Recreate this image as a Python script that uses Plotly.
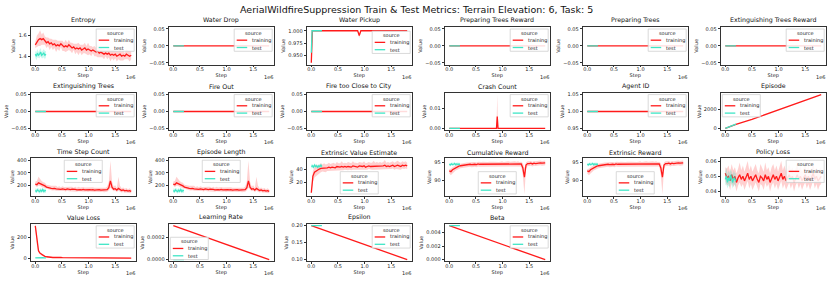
import plotly.graph_objects as go

W, H = 831, 283
FIG_TITLE = "AerialWildfireSuppression Train & Test Metrics: Terrain Elevation: 6, Task: 5"
SERIES_NAMES = ["training", "test"]
LEGEND_TITLE = "source"
X_LABEL = "Step"
Y_LABEL = "Value"
X_OFFSET_LABEL = "1e6"
X_TICK_VALS = [0, 500000, 1000000, 1500000]
X_TICK_TEXT = ["0.0", "0.5", "1.0", "1.5"]

# ---------------- steps (in thousands) ----------------
GRID_STEPS_K = [0, 30, 60, 90, 120, 150, 180, 210, 240, 270, 300, 330, 360, 390, 420, 450, 480, 510,
                540, 570, 600, 630, 660, 690, 720, 750, 780, 810, 840, 870, 900, 930, 960, 990, 1020,
                1050, 1080, 1110, 1140, 1170, 1200, 1230, 1260, 1290, 1320, 1350, 1380, 1410, 1440,
                1470, 1500, 1530, 1560, 1590, 1620, 1650, 1680, 1710, 1740, 1770, 1800]
TEST_STEPS_K = [0, 20, 40, 60, 80, 100, 120, 140, 160, 180, 200]
FLAT_STEPS_K = [0, 1800]
FLAT_TEST_STEPS_K = [0, 200]

# ---------------- Entropy ----------------
ENTROPY_TRAIN = [1.51, 1.54, 1.56, 1.57, 1.56, 1.57, 1.55, 1.53, 1.54, 1.52,
                 1.53, 1.51, 1.52, 1.50, 1.51, 1.50, 1.52, 1.50, 1.49, 1.50,
                 1.49, 1.51, 1.49, 1.48, 1.49, 1.47, 1.48, 1.47, 1.48, 1.46,
                 1.47, 1.48, 1.46, 1.47, 1.46, 1.45, 1.46, 1.45, 1.44, 1.45,
                 1.43, 1.44, 1.43, 1.42, 1.43, 1.42, 1.43, 1.41, 1.42, 1.41,
                 1.42, 1.40, 1.41, 1.42, 1.40, 1.41, 1.40, 1.42, 1.41, 1.40, 1.41]
ENTROPY_TRAIN_HI = [1.54, 1.60, 1.62, 1.65, 1.61, 1.63, 1.59, 1.58, 1.58, 1.57,
                    1.57, 1.56, 1.56, 1.56, 1.55, 1.55, 1.55, 1.55, 1.53, 1.56,
                    1.53, 1.56, 1.53, 1.53, 1.52, 1.52, 1.52, 1.53, 1.51, 1.51,
                    1.51, 1.53, 1.50, 1.53, 1.50, 1.50, 1.49, 1.50, 1.48, 1.51,
                    1.47, 1.49, 1.47, 1.47, 1.46, 1.47, 1.47, 1.47, 1.46, 1.46,
                    1.46, 1.45, 1.45, 1.48, 1.44, 1.46, 1.43, 1.47, 1.45, 1.45, 1.45]
ENTROPY_TRAIN_LO = [1.48, 1.49, 1.50, 1.50, 1.51, 1.51, 1.51, 1.48, 1.50, 1.46,
                    1.49, 1.46, 1.48, 1.44, 1.47, 1.45, 1.49, 1.45, 1.45, 1.44,
                    1.45, 1.46, 1.45, 1.43, 1.46, 1.42, 1.44, 1.41, 1.44, 1.41,
                    1.43, 1.43, 1.42, 1.41, 1.42, 1.40, 1.43, 1.40, 1.40, 1.39,
                    1.39, 1.39, 1.39, 1.37, 1.40, 1.37, 1.39, 1.35, 1.38, 1.36,
                    1.38, 1.35, 1.37, 1.36, 1.36, 1.36, 1.37, 1.37, 1.37, 1.35, 1.37]
ENTROPY_TEST = [1.42, 1.40, 1.43, 1.41, 1.42, 1.44, 1.41, 1.42, 1.43, 1.41, 1.42]
ENTROPY_TEST_HI = [1.45, 1.44, 1.47, 1.44, 1.46, 1.48, 1.44, 1.46, 1.47, 1.45, 1.45]
ENTROPY_TEST_LO = [1.39, 1.36, 1.39, 1.38, 1.38, 1.40, 1.38, 1.38, 1.39, 1.37, 1.39]

# ---------------- flat metrics ----------------
ZERO_TRAIN = [0.0, 0.0]
ZERO_TEST = [0.0, 0.0]
AGENT_ID_TRAIN = [1.0, 1.0]
AGENT_ID_TEST = [1.0, 1.0]

# ---------------- Water Pickup ----------------
WATER_PICKUP_STEPS_K = [0, 20, 870, 900, 930, 1800]
WATER_PICKUP_TRAIN = [0.935, 1.0, 1.0, 0.990, 1.0, 1.0]
WATER_PICKUP_TRAIN_HI = [0.94, 1.0, 1.0, 0.995, 1.0, 1.0]
WATER_PICKUP_TRAIN_LO = [0.932, 1.0, 1.0, 0.985, 1.0, 1.0]
WATER_PICKUP_TEST_STEPS_K = [0, 15, 200]
WATER_PICKUP_TEST = [0.955, 1.0, 1.0]

# ---------------- Crash Count ----------------
CRASH_STEPS_K = [0, 885, 900, 915, 1800]
CRASH_TRAIN = [0.0, 0.0, 0.006, 0.0, 0.0]
CRASH_TRAIN_HI = [0.0, 0.0, 0.017, 0.0, 0.0]
CRASH_TRAIN_LO = [0.0, 0.0, 0.0, 0.0, 0.0]

# ---------------- Episode ----------------
EPISODE_STEPS_K = [0, 200, 500, 1000, 1500, 1800]
EPISODE_TRAIN = [0, 420, 950, 1950, 2950, 3570]
EPISODE_TEST_STEPS_K = [0, 100, 200]
EPISODE_TEST = [0, 230, 450]

# ---------------- Time Step Count / Episode Length ----------------
TIME_STEP_TRAIN = [210, 205, 220, 215, 205, 200, 195, 185, 180, 178,
                   175, 172, 175, 170, 168, 172, 166, 170, 168, 165,
                   170, 167, 165, 168, 164, 166, 163, 167, 165, 162,
                   166, 163, 165, 161, 164, 162, 165, 160, 163, 161,
                   164, 160, 162, 158, 161, 165, 180, 235, 185, 168,
                   172, 160, 175, 165, 158, 162, 155, 158, 152, 156, 150]
TIME_STEP_TRAIN_HI = [230, 235, 270, 250, 235, 225, 220, 205, 200, 200,
                      195, 195, 192, 195, 185, 192, 183, 192, 185, 185,
                      188, 186, 182, 188, 180, 188, 180, 187, 182, 185,
                      186, 182, 183, 182, 180, 182, 183, 180, 180, 178,
                      182, 178, 180, 176, 180, 190, 230, 400, 230, 190,
                      200, 178, 270, 195, 175, 182, 172, 178, 168, 175, 165]
TIME_STEP_TRAIN_LO = [195, 185, 195, 195, 185, 180, 175, 170, 165, 162,
                      160, 158, 160, 155, 155, 157, 152, 155, 153, 150,
                      155, 152, 150, 152, 150, 150, 148, 152, 150, 147,
                      150, 148, 150, 146, 150, 147, 150, 145, 148, 146,
                      150, 145, 147, 143, 146, 148, 160, 180, 165, 152,
                      155, 145, 155, 150, 142, 146, 140, 142, 138, 140, 136]
TIME_STEP_TEST = [158, 150, 162, 155, 148, 160, 152, 165, 150, 158, 155]
TIME_STEP_TEST_HI = [175, 170, 180, 172, 168, 178, 170, 182, 168, 175, 170]
TIME_STEP_TEST_LO = [140, 135, 145, 138, 132, 142, 136, 148, 134, 140, 138]
EPISODE_LENGTH_TRAIN = TIME_STEP_TRAIN
EPISODE_LENGTH_TRAIN_HI = TIME_STEP_TRAIN_HI
EPISODE_LENGTH_TRAIN_LO = TIME_STEP_TRAIN_LO
EPISODE_LENGTH_TEST = TIME_STEP_TEST
EPISODE_LENGTH_TEST_HI = TIME_STEP_TEST_HI
EPISODE_LENGTH_TEST_LO = TIME_STEP_TEST_LO

# ---------------- Extrinsic Value Estimate ----------------
VALUE_EST_TRAIN = [4, 30, 36, 38, 39, 41, 42, 42, 43, 42,
                   43, 44, 43, 44, 44, 43, 45, 44, 44, 45,
                   44, 45, 44, 45, 45, 44, 46, 45, 45, 44,
                   46, 45, 45, 46, 44, 45, 46, 45, 45, 46,
                   45, 46, 45, 46, 45, 46, 47, 45, 46, 45,
                   46, 47, 45, 46, 47, 46, 45, 47, 46, 47, 46]
VALUE_EST_TRAIN_HI = [8, 38, 44, 48, 46, 47, 50, 48, 50, 48,
                      49, 51, 49, 50, 51, 49, 52, 50, 50, 53,
                      50, 51, 50, 52, 51, 50, 53, 51, 51, 50,
                      52, 51, 51, 53, 50, 51, 52, 51, 51, 54,
                      51, 52, 51, 52, 51, 52, 55, 51, 52, 51,
                      52, 53, 51, 52, 54, 52, 51, 53, 52, 53, 51]
VALUE_EST_TRAIN_LO = [2, 20, 28, 30, 33, 35, 36, 37, 37, 36,
                      38, 38, 38, 39, 38, 38, 39, 39, 39, 39,
                      39, 40, 39, 39, 40, 39, 40, 40, 40, 39,
                      40, 40, 40, 40, 39, 40, 41, 40, 40, 40,
                      40, 41, 40, 41, 40, 41, 41, 40, 41, 40,
                      41, 42, 40, 41, 41, 41, 40, 42, 41, 42, 41]
VALUE_EST_TEST = [45, 46, 44, 47, 45, 46, 44, 46, 45, 47, 45]
VALUE_EST_TEST_HI = [48, 49, 47, 50, 48, 49, 47, 49, 48, 50, 48]
VALUE_EST_TEST_LO = [42, 43, 41, 44, 42, 43, 41, 43, 42, 44, 42]

# ---------------- Cumulative / Extrinsic Reward ----------------
REWARD_TRAIN = [92.7, 92.5, 93.0, 93.3, 93.6, 93.8, 94.0, 94.1, 94.2, 94.3,
                94.3, 94.4, 94.4, 94.5, 94.4, 94.5, 94.5, 94.4, 94.6, 94.5,
                94.5, 94.6, 94.5, 94.6, 94.5, 94.6, 94.5, 94.6, 94.6, 94.5,
                94.6, 94.5, 94.6, 94.7, 94.6, 94.6, 94.6, 94.7, 94.6, 94.7,
                94.6, 94.7, 94.6, 94.7, 94.5, 94.6, 93.5, 91.0, 94.3, 94.7,
                94.7, 94.8, 94.6, 94.8, 94.7, 94.8, 94.7, 94.9, 94.8, 94.8, 94.9]
REWARD_TRAIN_HI = [93.2, 93.3, 93.7, 94.0, 94.3, 94.5, 94.6, 94.7, 94.8, 95.0,
                   94.9, 95.0, 95.0, 95.1, 95.0, 95.1, 95.1, 95.0, 95.2, 95.1,
                   95.1, 95.2, 95.1, 95.2, 95.1, 95.2, 95.1, 95.2, 95.2, 95.1,
                   95.2, 95.1, 95.2, 95.3, 95.1, 95.2, 95.2, 95.3, 95.2, 95.3,
                   95.2, 95.3, 95.2, 95.3, 95.1, 95.2, 94.8, 93.5, 95.0, 95.3,
                   95.3, 95.4, 95.2, 95.4, 95.3, 95.4, 95.3, 95.5, 95.4, 95.4, 95.5]
REWARD_TRAIN_LO = [92.0, 91.5, 92.0, 92.5, 92.8, 93.0, 93.3, 93.4, 93.5, 93.6,
                   93.6, 93.7, 93.7, 93.8, 93.7, 93.8, 93.8, 93.7, 93.9, 93.8,
                   93.8, 93.9, 93.8, 93.9, 93.8, 93.9, 93.8, 93.9, 93.9, 93.8,
                   93.9, 93.8, 93.9, 94.0, 93.8, 93.9, 93.9, 94.0, 93.9, 94.0,
                   93.9, 94.0, 93.9, 94.0, 93.8, 93.9, 91.5, 86.3, 93.4, 94.0,
                   94.0, 94.1, 93.9, 94.1, 94.0, 94.1, 94.0, 94.2, 94.1, 94.1, 94.2]
REWARD_TEST = [94.5, 94.3, 94.6, 94.4, 94.5, 94.7, 94.4, 94.6, 94.5, 94.6, 94.5]
REWARD_TEST_HI = [94.9, 94.8, 95.0, 94.9, 94.9, 95.1, 94.8, 95.0, 94.9, 95.0, 94.9]
REWARD_TEST_LO = [94.1, 93.9, 94.2, 94.0, 94.1, 94.3, 94.0, 94.2, 94.1, 94.2, 94.1]

# ---------------- Policy Loss ----------------
POLICY_TRAIN = [0.052, 0.049, 0.050, 0.047, 0.051, 0.048, 0.050, 0.046, 0.049, 0.051,
                0.048, 0.050, 0.047, 0.049, 0.052, 0.048, 0.050, 0.047, 0.049, 0.051,
                0.048, 0.046, 0.050, 0.049, 0.047, 0.051, 0.048, 0.050, 0.046, 0.049,
                0.051, 0.048, 0.050, 0.047, 0.049, 0.052, 0.048, 0.050, 0.047, 0.049,
                0.051, 0.048, 0.050, 0.046, 0.049, 0.051, 0.048, 0.050, 0.047, 0.049,
                0.051, 0.048, 0.050, 0.047, 0.049, 0.052, 0.048, 0.050, 0.047, 0.049, 0.050]
POLICY_TRAIN_HI = [0.056, 0.055, 0.057, 0.053, 0.058, 0.054, 0.056, 0.052, 0.055, 0.059,
                   0.054, 0.057, 0.053, 0.056, 0.060, 0.054, 0.057, 0.053, 0.055, 0.058,
                   0.054, 0.052, 0.058, 0.055, 0.053, 0.059, 0.054, 0.056, 0.052, 0.056,
                   0.058, 0.054, 0.057, 0.053, 0.056, 0.060, 0.054, 0.057, 0.053, 0.055,
                   0.058, 0.054, 0.056, 0.052, 0.055, 0.058, 0.054, 0.057, 0.053, 0.056,
                   0.058, 0.054, 0.057, 0.053, 0.055, 0.059, 0.054, 0.056, 0.053, 0.055, 0.056]
POLICY_TRAIN_LO = [0.047, 0.044, 0.045, 0.041, 0.046, 0.043, 0.045, 0.040, 0.044, 0.046,
                   0.043, 0.045, 0.041, 0.044, 0.047, 0.042, 0.045, 0.041, 0.044, 0.046,
                   0.043, 0.040, 0.045, 0.044, 0.041, 0.046, 0.043, 0.045, 0.040, 0.044,
                   0.046, 0.042, 0.045, 0.041, 0.044, 0.047, 0.042, 0.045, 0.041, 0.044,
                   0.046, 0.042, 0.045, 0.040, 0.044, 0.046, 0.042, 0.045, 0.041, 0.044,
                   0.046, 0.042, 0.045, 0.041, 0.044, 0.047, 0.042, 0.045, 0.041, 0.044, 0.045]
POLICY_TEST = [0.048, 0.050, 0.046, 0.049, 0.047, 0.051, 0.048, 0.046, 0.049, 0.048, 0.047]
POLICY_TEST_HI = [0.053, 0.056, 0.051, 0.054, 0.052, 0.055, 0.053, 0.051, 0.054, 0.052, 0.052]
POLICY_TEST_LO = [0.044, 0.045, 0.042, 0.044, 0.043, 0.046, 0.044, 0.042, 0.045, 0.044, 0.043]

# ---------------- Value Loss ----------------
VALUE_LOSS_TRAIN = [310, 160, 75, 50, 38, 30, 22, 18, 15, 13,
                    12, 11, 12, 10, 11, 10, 11, 10, 10, 11,
                    10, 11, 10, 10, 9, 10, 10, 9, 10, 11,
                    10, 12, 9, 10, 9, 9, 10, 8, 9, 8,
                    8, 9, 8, 8, 7, 8, 7, 7, 8, 7,
                    7, 6, 7, 6, 6, 7, 6, 5, 6, 5, 5]
VALUE_LOSS_TRAIN_HI = [330, 190, 95, 62, 46, 38, 28, 24, 20, 18,
                       17, 16, 17, 14, 16, 14, 16, 14, 14, 16,
                       14, 16, 14, 14, 13, 14, 15, 13, 14, 16,
                       14, 18, 13, 14, 13, 13, 14, 12, 13, 12,
                       12, 13, 12, 12, 11, 12, 11, 11, 12, 11,
                       11, 10, 11, 10, 10, 11, 10, 9, 10, 9, 9]
VALUE_LOSS_TRAIN_LO = [290, 130, 60, 40, 30, 24, 17, 13, 11, 9,
                       8, 7, 8, 7, 7, 7, 7, 6, 7, 7,
                       7, 7, 6, 7, 6, 7, 6, 6, 6, 7,
                       6, 7, 6, 6, 6, 6, 6, 5, 6, 5,
                       5, 6, 5, 5, 4, 5, 4, 4, 5, 4,
                       4, 3, 4, 3, 3, 4, 3, 2, 3, 2, 2]
VALUE_LOSS_TEST = [8, 9, 8, 10, 9, 8, 9, 10, 8, 9, 8]
VALUE_LOSS_TEST_HI = [10, 11, 10, 12, 11, 10, 11, 12, 10, 11, 10]
VALUE_LOSS_TEST_LO = [6, 7, 6, 8, 7, 6, 7, 8, 6, 7, 6]

# ---------------- schedules ----------------
LEARNING_RATE_TRAIN = [0.0003, 0.0]
LEARNING_RATE_TEST = [0.0, 0.0]
EPSILON_TRAIN = [0.2, 0.1]
EPSILON_TEST = [0.2, 0.2]
BETA_TRAIN = [0.005, 0.00001]
BETA_TEST = [0.005, 0.005]

# ---------------- panels ----------------
def k(lst):
    return [v * 1000 for v in lst]

MINUS = "\u2212"
FLAT_TICKS = ([-0.05, 0.0, 0.05], [MINUS + "0.05", "0.00", "0.05"])

PANELS = [
    dict(title="Entropy", tx=k(GRID_STEPS_K), ty=ENTROPY_TRAIN, tlo=ENTROPY_TRAIN_LO, thi=ENTROPY_TRAIN_HI,
         ex=k(TEST_STEPS_K), ey=ENTROPY_TEST, elo=ENTROPY_TEST_LO, ehi=ENTROPY_TEST_HI,
         yr=[1.32, 1.68], yt=([1.4, 1.6], ["1.4", "1.6"]), leg="ur"),
    dict(title="Water Drop", tx=k(FLAT_STEPS_K), ty=ZERO_TRAIN, ex=k(FLAT_TEST_STEPS_K), ey=ZERO_TEST,
         yr=[-0.055, 0.055], yt=FLAT_TICKS, leg="ur"),
    dict(title="Water Pickup", tx=k(WATER_PICKUP_STEPS_K), ty=WATER_PICKUP_TRAIN, tlo=WATER_PICKUP_TRAIN_LO,
         thi=WATER_PICKUP_TRAIN_HI, ex=k(WATER_PICKUP_TEST_STEPS_K), ey=WATER_PICKUP_TEST,
         yr=[0.9312, 1.0072], yt=([0.95, 0.975, 1.0], ["0.950", "0.975", "1.000"]), leg="cr"),
    dict(title="Preparing Trees Reward", tx=k(FLAT_STEPS_K), ty=ZERO_TRAIN, ex=k(FLAT_TEST_STEPS_K), ey=ZERO_TEST,
         yr=[-0.055, 0.055], yt=FLAT_TICKS, leg="ur"),
    dict(title="Preparing Trees", tx=k(FLAT_STEPS_K), ty=ZERO_TRAIN, ex=k(FLAT_TEST_STEPS_K), ey=ZERO_TEST,
         yr=[-0.055, 0.055], yt=FLAT_TICKS, leg="ur"),
    dict(title="Extinguishing Trees Reward", tx=k(FLAT_STEPS_K), ty=ZERO_TRAIN, ex=k(FLAT_TEST_STEPS_K),
         ey=ZERO_TEST, yr=[-0.055, 0.055], yt=FLAT_TICKS, leg="ur"),
    dict(title="Extinguishing Trees", tx=k(FLAT_STEPS_K), ty=ZERO_TRAIN, ex=k(FLAT_TEST_STEPS_K), ey=ZERO_TEST,
         yr=[-0.055, 0.055], yt=FLAT_TICKS, leg="ur"),
    dict(title="Fire Out", tx=k(FLAT_STEPS_K), ty=ZERO_TRAIN, ex=k(FLAT_TEST_STEPS_K), ey=ZERO_TEST,
         yr=[-0.055, 0.055], yt=FLAT_TICKS, leg="ur"),
    dict(title="Fire too Close to City", tx=k(FLAT_STEPS_K), ty=ZERO_TRAIN, ex=k(FLAT_TEST_STEPS_K),
         ey=ZERO_TEST, yr=[-0.055, 0.055], yt=FLAT_TICKS, leg="ur"),
    dict(title="Crash Count", tx=k(CRASH_STEPS_K), ty=CRASH_TRAIN, tlo=CRASH_TRAIN_LO, thi=CRASH_TRAIN_HI,
         ex=k(FLAT_TEST_STEPS_K), ey=ZERO_TEST, yr=[-0.00085, 0.01785], yt=([0.0, 0.01], ["0.00", "0.01"]),
         leg="ur"),
    dict(title="Agent ID", tx=k(FLAT_STEPS_K), ty=AGENT_ID_TRAIN, ex=k(FLAT_TEST_STEPS_K), ey=AGENT_ID_TEST,
         yr=[0.945, 1.055], yt=([0.95, 1.0, 1.05], ["0.95", "1.00", "1.05"]), leg="ur"),
    dict(title="Episode", tx=k(EPISODE_STEPS_K), ty=EPISODE_TRAIN, ex=k(EPISODE_TEST_STEPS_K), ey=EPISODE_TEST,
         yr=[-180, 3750], yt=([0, 2000], ["0", "2000"]), leg="ul"),
    dict(title="Time Step Count", tx=k(GRID_STEPS_K), ty=TIME_STEP_TRAIN, tlo=TIME_STEP_TRAIN_LO,
         thi=TIME_STEP_TRAIN_HI, ex=k(TEST_STEPS_K), ey=TIME_STEP_TEST, elo=TIME_STEP_TEST_LO,
         ehi=TIME_STEP_TEST_HI, yr=[115, 418], yt=([200, 300, 400], ["200", "300", "400"]), leg="uc"),
    dict(title="Episode Length", tx=k(GRID_STEPS_K), ty=EPISODE_LENGTH_TRAIN, tlo=EPISODE_LENGTH_TRAIN_LO,
         thi=EPISODE_LENGTH_TRAIN_HI, ex=k(TEST_STEPS_K), ey=EPISODE_LENGTH_TEST, elo=EPISODE_LENGTH_TEST_LO,
         ehi=EPISODE_LENGTH_TEST_HI, yr=[115, 418], yt=([200, 300, 400], ["200", "300", "400"]), leg="uc"),
    dict(title="Extrinsic Value Estimate", tx=k(GRID_STEPS_K), ty=VALUE_EST_TRAIN, tlo=VALUE_EST_TRAIN_LO,
         thi=VALUE_EST_TRAIN_HI, ex=k(TEST_STEPS_K), ey=VALUE_EST_TEST, elo=VALUE_EST_TEST_LO,
         ehi=VALUE_EST_TEST_HI, yr=[-0.6, 57.6], yt=([20, 40], ["20", "40"]), leg="lc"),
    dict(title="Cumulative Reward", tx=k(GRID_STEPS_K), ty=REWARD_TRAIN, tlo=REWARD_TRAIN_LO, thi=REWARD_TRAIN_HI,
         ex=k(TEST_STEPS_K), ey=REWARD_TEST, elo=REWARD_TEST_LO, ehi=REWARD_TEST_HI,
         yr=[85.9, 96.1], yt=([90, 95], ["90", "95"]), leg="lc"),
    dict(title="Extrinsic Reward", tx=k(GRID_STEPS_K), ty=REWARD_TRAIN, tlo=REWARD_TRAIN_LO, thi=REWARD_TRAIN_HI,
         ex=k(TEST_STEPS_K), ey=REWARD_TEST, elo=REWARD_TEST_LO, ehi=REWARD_TEST_HI,
         yr=[85.9, 96.1], yt=([90, 95], ["90", "95"]), leg="lc"),
    dict(title="Policy Loss", tx=k(GRID_STEPS_K), ty=POLICY_TRAIN, tlo=POLICY_TRAIN_LO, thi=POLICY_TRAIN_HI,
         ex=k(TEST_STEPS_K), ey=POLICY_TEST, elo=POLICY_TEST_LO, ehi=POLICY_TEST_HI,
         yr=[0.0373, 0.0617], yt=([0.04, 0.05, 0.06], ["0.04", "0.05", "0.06"]), leg="ur"),
    dict(title="Value Loss", tx=k(GRID_STEPS_K), ty=VALUE_LOSS_TRAIN, tlo=VALUE_LOSS_TRAIN_LO,
         thi=VALUE_LOSS_TRAIN_HI, ex=k(TEST_STEPS_K), ey=VALUE_LOSS_TEST, elo=VALUE_LOSS_TEST_LO,
         ehi=VALUE_LOSS_TEST_HI, yr=[-25, 327], yt=([0, 200], ["0", "200"]), leg="ur"),
    dict(title="Learning Rate", tx=k(FLAT_STEPS_K), ty=LEARNING_RATE_TRAIN, ex=k(FLAT_TEST_STEPS_K),
         ey=LEARNING_RATE_TEST, yr=[-0.000015, 0.000315], yt=([0.0, 0.0002], ["0.0000", "0.0002"]), leg="ll"),
    dict(title="Epsilon", tx=k(FLAT_STEPS_K), ty=EPSILON_TRAIN, ex=k(FLAT_TEST_STEPS_K), ey=EPSILON_TEST,
         yr=[0.095, 0.205], yt=([0.10, 0.15, 0.20], ["0.10", "0.15", "0.20"]), leg="ur"),
    dict(title="Beta", tx=k(FLAT_STEPS_K), ty=BETA_TRAIN, ex=k(FLAT_TEST_STEPS_K), ey=BETA_TEST,
         yr=[-0.00024, 0.00525], yt=([0.0, 0.002, 0.004], ["0.000", "0.002", "0.004"]), leg="ur"),
]

# ---------------- styling ----------------
FONT = "DejaVu Sans"
TRAIN_COLOR = "#ff1a1a"
TEST_COLOR = "#3fe6c6"
TRAIN_BAND = "rgba(255,40,40,0.22)"
TEST_BAND = "rgba(63,230,198,0.28)"
AX_COLOR = "#333333"
X_RANGE = [-90000, 1890000]

COL_LEFT0, COL_PITCH, AX_W = 30.5, 138.0, 105.5
ROW_TOP0, ROW_PITCH, AX_H = 25.5, 66.3, 37.7
LEG_W, LEG_H, LEG_PAD = 38.0, 22.5, 1.8

def px(x):
    return x / W

def py(y):
    return 1 - y / H

fig = go.Figure()
shapes = []
annotations = []
layout_axes = {}

for i, p in enumerate(PANELS):
    r, c = divmod(i, 6)
    n = i + 1
    left = COL_LEFT0 + c * COL_PITCH
    right = left + AX_W
    top = ROW_TOP0 + r * ROW_PITCH
    bottom = top + AX_H
    xa, ya = f"x{n}", f"y{n}"

    if "tlo" in p:
        fig.add_trace(go.Scatter(x=p["tx"], y=p["tlo"], xaxis=xa, yaxis=ya, mode="lines",
                                 line=dict(width=0, color=TRAIN_BAND), showlegend=False, hoverinfo="skip"))
        fig.add_trace(go.Scatter(x=p["tx"], y=p["thi"], xaxis=xa, yaxis=ya, mode="lines", fill="tonexty",
                                 fillcolor=TRAIN_BAND, line=dict(width=0, color=TRAIN_BAND),
                                 showlegend=False, hoverinfo="skip"))
    fig.add_trace(go.Scatter(x=p["tx"], y=p["ty"], xaxis=xa, yaxis=ya, mode="lines", name=SERIES_NAMES[0],
                             line=dict(width=1.3, color=TRAIN_COLOR), showlegend=False))
    if "elo" in p:
        fig.add_trace(go.Scatter(x=p["ex"], y=p["elo"], xaxis=xa, yaxis=ya, mode="lines",
                                 line=dict(width=0, color=TEST_BAND), showlegend=False, hoverinfo="skip"))
        fig.add_trace(go.Scatter(x=p["ex"], y=p["ehi"], xaxis=xa, yaxis=ya, mode="lines", fill="tonexty",
                                 fillcolor=TEST_BAND, line=dict(width=0, color=TEST_BAND),
                                 showlegend=False, hoverinfo="skip"))
    fig.add_trace(go.Scatter(x=p["ex"], y=p["ey"], xaxis=xa, yaxis=ya, mode="lines", name=SERIES_NAMES[1],
                             line=dict(width=1.3, color=TEST_COLOR), showlegend=False))

    xkey = "xaxis" if n == 1 else f"xaxis{n}"
    ykey = "yaxis" if n == 1 else f"yaxis{n}"
    common = dict(showline=True, mirror=True, linecolor=AX_COLOR, linewidth=0.8, ticks="outside",
                  ticklen=2, tickwidth=0.8, tickcolor=AX_COLOR, showgrid=False, zeroline=False,
                  tickfont=dict(size=5, color="#222", family=FONT))
    layout_axes[xkey] = dict(common, domain=[px(left), px(right)], range=X_RANGE, anchor=ya,
                             tickmode="array", tickvals=X_TICK_VALS, ticktext=X_TICK_TEXT,
                             ticklabelstandoff=-2,
                             title=dict(text=X_LABEL, font=dict(size=5, color="#222", family=FONT), standoff=1))
    layout_axes[ykey] = dict(common, domain=[py(bottom), py(top)], range=p["yr"], anchor=xa,
                             tickmode="array", tickvals=p["yt"][0], ticktext=p["yt"][1],
                             title=dict(text=Y_LABEL, font=dict(size=5, color="#222", family=FONT), standoff=2))

    # subplot title
    annotations.append(dict(text=p["title"], x=px((left + right) / 2), y=py(top - 0.8), xref="paper",
                            yref="paper", xanchor="center", yanchor="bottom", showarrow=False,
                            font=dict(size=6.3, color="#111", family=FONT)))
    # offset text
    annotations.append(dict(text=X_OFFSET_LABEL, x=px(right + 0.5), y=py(bottom + 12.2), xref="paper",
                            yref="paper", xanchor="right", yanchor="middle", showarrow=False,
                            font=dict(size=5, color="#222", family=FONT)))

    # legend box
    loc = p["leg"]
    if loc in ("ur", "cr"):
        lx0 = right - LEG_PAD - LEG_W
    elif loc in ("ul", "ll"):
        lx0 = left + LEG_PAD
    else:
        lx0 = (left + right) / 2 - LEG_W / 2
    if loc in ("ur", "ul", "uc"):
        ly0 = top + LEG_PAD
    elif loc == "cr":
        ly0 = top + 4.0
    else:
        ly0 = bottom - LEG_PAD - LEG_H
    shapes.append(dict(type="rect", xref="paper", yref="paper", x0=px(lx0), x1=px(lx0 + LEG_W),
                       y0=py(ly0 + LEG_H), y1=py(ly0), fillcolor="rgba(255,255,255,0.85)",
                       line=dict(color="#d0d0d0", width=0.8), layer="above"))
    annotations.append(dict(text=LEGEND_TITLE, x=px(lx0 + LEG_W / 2), y=py(ly0 + 4.0), xref="paper",
                            yref="paper", xanchor="center", yanchor="middle", showarrow=False,
                            font=dict(size=5, color="#222", family=FONT)))
    for j, (nm, col) in enumerate(zip(SERIES_NAMES, [TRAIN_COLOR, TEST_COLOR])):
        yy = ly0 + 11.3 + j * 7.4
        shapes.append(dict(type="line", xref="paper", yref="paper", x0=px(lx0 + 2.5), x1=px(lx0 + 13),
                           y0=py(yy), y1=py(yy), line=dict(color=col, width=1.3), layer="above"))
        annotations.append(dict(text=nm, x=px(lx0 + 16), y=py(yy), xref="paper", yref="paper",
                                xanchor="left", yanchor="middle", showarrow=False,
                                font=dict(size=5, color="#222", family=FONT)))

annotations.append(dict(text=FIG_TITLE, x=px(416), y=py(8), xref="paper", yref="paper", xanchor="center",
                        yanchor="middle", showarrow=False, font=dict(size=9.5, color="#111", family=FONT)))

fig.update_layout(width=W, height=H, margin=dict(l=0, r=0, t=0, b=0), paper_bgcolor="white",
                  plot_bgcolor="white", showlegend=False, shapes=shapes, annotations=annotations,
                  font=dict(family=FONT, size=5), **layout_axes)

fig.write_html("out.html", config={"displayModeBar": False},
               post_script="document.body.style.margin='0';document.body.style.padding='0';")
